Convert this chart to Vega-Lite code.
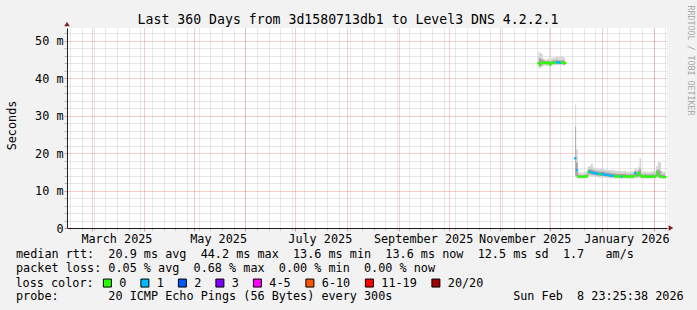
{
  "$schema": "https://vega.github.io/schema/vega-lite/v6.json",
  "width": 600,
  "height": 200,
  "autosize": "none",
  "padding": {"left": 67, "top": 28, "right": 30, "bottom": 82},
  "background": "#f2f2f2",
  "config": {
    "view": {"fill": "#ffffff", "stroke": null},
    "font": "DejaVu Sans Mono",
    "axis": {"labelFont": "DejaVu Sans Mono", "titleFont": "DejaVu Sans Mono", "labelColor": "#000000", "titleColor": "#000000", "titleFontWeight": "normal"}
  },
  "title": {
    "text": "Last 360 Days from 3d1580713db1 to Level3 DNS 4.2.2.1",
    "font": "DejaVu Sans Mono", "fontSize": 13.2, "fontWeight": "normal", "color": "#000000",
    "anchor": "middle", "frame": "group", "dx": -19, "baseline": "alphabetic", "offset": -32
  },
  "data": {"values": [
    {"t":"2025-11-24","seg":"A","med":44.0,"loss":"0","lo":42.6,"hi":47.0,"lo2":43.2,"hi2":45.5},
    {"t":"2025-11-25","seg":"A","med":43.6,"loss":"0","lo":42.7,"hi":46.8,"lo2":43.2,"hi2":45.2},
    {"t":"2025-11-26","seg":"A","med":44.1,"loss":"0","lo":42.9,"hi":46.5,"lo2":43.5,"hi2":45.0},
    {"t":"2025-11-27","seg":"A","med":44.1,"loss":"0","lo":43.3,"hi":45.3,"lo2":43.7,"hi2":44.7},
    {"t":"2025-11-28","seg":"A","med":44.2,"loss":"0","lo":43.4,"hi":45.0,"lo2":43.8,"hi2":44.6},
    {"t":"2025-11-29","seg":"A","med":44.0,"loss":"0","lo":43.3,"hi":45.0,"lo2":43.6,"hi2":44.5},
    {"t":"2025-11-30","seg":"A","med":44.1,"loss":"0","lo":43.4,"hi":45.2,"lo2":43.7,"hi2":44.6},
    {"t":"2025-12-01","seg":"A","med":43.6,"loss":"0","lo":43.0,"hi":45.0,"lo2":43.3,"hi2":44.4},
    {"t":"2025-12-02","seg":"A","med":44.1,"loss":"0","lo":43.4,"hi":45.3,"lo2":43.7,"hi2":44.6},
    {"t":"2025-12-03","seg":"A","med":44.2,"loss":"0","lo":43.5,"hi":45.6,"lo2":43.8,"hi2":44.8},
    {"t":"2025-12-04","seg":"A","med":44.1,"loss":"0","lo":43.4,"hi":45.5,"lo2":43.8,"hi2":44.7},
    {"t":"2025-12-05","seg":"A","med":44.2,"loss":"1","lo":43.5,"hi":45.8,"lo2":43.9,"hi2":44.9},
    {"t":"2025-12-06","seg":"A","med":44.2,"loss":"1","lo":43.5,"hi":45.7,"lo2":43.8,"hi2":44.8},
    {"t":"2025-12-07","seg":"A","med":44.1,"loss":"1","lo":43.4,"hi":45.6,"lo2":43.8,"hi2":44.7},
    {"t":"2025-12-08","seg":"A","med":44.2,"loss":"0","lo":43.5,"hi":45.9,"lo2":43.8,"hi2":44.8},
    {"t":"2025-12-09","seg":"A","med":44.1,"loss":"0","lo":43.4,"hi":45.6,"lo2":43.7,"hi2":44.7},
    {"t":"2025-12-10","seg":"A","med":44.0,"loss":"0","lo":43.3,"hi":45.3,"lo2":43.6,"hi2":44.5},
    {"t":"2025-12-16","seg":"B","med":18.6,"loss":"1","lo":13.5,"hi":33.0,"lo2":14.0,"hi2":27.0},
    {"t":"2025-12-17","seg":"B","med":15.5,"loss":"1","lo":13.3,"hi":21.0,"lo2":13.8,"hi2":17.5},
    {"t":"2025-12-18","seg":"B","med":13.7,"loss":"0","lo":13.2,"hi":15.0,"lo2":13.4,"hi2":14.2},
    {"t":"2025-12-19","seg":"B","med":13.7,"loss":"0","lo":13.2,"hi":14.8,"lo2":13.4,"hi2":14.1},
    {"t":"2025-12-20","seg":"B","med":13.7,"loss":"0","lo":13.2,"hi":14.7,"lo2":13.4,"hi2":14.1},
    {"t":"2025-12-21","seg":"B","med":13.7,"loss":"0","lo":13.2,"hi":14.8,"lo2":13.4,"hi2":14.1},
    {"t":"2025-12-22","seg":"B","med":13.8,"loss":"0","lo":13.3,"hi":14.9,"lo2":13.5,"hi2":14.2},
    {"t":"2025-12-23","seg":"B","med":13.8,"loss":"0","lo":13.3,"hi":15.0,"lo2":13.5,"hi2":14.3},
    {"t":"2025-12-24","seg":"B","med":15.0,"loss":"0","lo":13.8,"hi":16.4,"lo2":14.3,"hi2":15.6},
    {"t":"2025-12-25","seg":"B","med":15.0,"loss":"1","lo":13.9,"hi":16.6,"lo2":14.4,"hi2":15.7},
    {"t":"2025-12-26","seg":"B","med":14.8,"loss":"1","lo":13.8,"hi":17.3,"lo2":14.3,"hi2":15.6},
    {"t":"2025-12-27","seg":"B","med":14.7,"loss":"1","lo":13.7,"hi":16.2,"lo2":14.2,"hi2":15.4},
    {"t":"2025-12-28","seg":"B","med":14.6,"loss":"1","lo":13.6,"hi":16.0,"lo2":14.1,"hi2":15.3},
    {"t":"2025-12-29","seg":"B","med":14.5,"loss":"1","lo":13.6,"hi":15.9,"lo2":14.0,"hi2":15.2},
    {"t":"2025-12-30","seg":"B","med":14.4,"loss":"1","lo":13.5,"hi":15.8,"lo2":14.0,"hi2":15.1},
    {"t":"2025-12-31","seg":"B","med":14.3,"loss":"0","lo":13.5,"hi":15.8,"lo2":13.9,"hi2":15.0},
    {"t":"2026-01-01","seg":"B","med":14.5,"loss":"1","lo":13.5,"hi":16.0,"lo2":13.9,"hi2":15.1},
    {"t":"2026-01-02","seg":"B","med":14.3,"loss":"1","lo":13.5,"hi":15.7,"lo2":13.9,"hi2":15.0},
    {"t":"2026-01-03","seg":"B","med":14.2,"loss":"1","lo":13.4,"hi":15.6,"lo2":13.8,"hi2":14.9},
    {"t":"2026-01-04","seg":"B","med":14.1,"loss":"1","lo":13.4,"hi":15.6,"lo2":13.8,"hi2":14.8},
    {"t":"2026-01-05","seg":"B","med":14.1,"loss":"1","lo":13.4,"hi":15.5,"lo2":13.7,"hi2":14.8},
    {"t":"2026-01-06","seg":"B","med":14.0,"loss":"1","lo":13.3,"hi":15.5,"lo2":13.7,"hi2":14.7},
    {"t":"2026-01-07","seg":"B","med":13.9,"loss":"1","lo":13.3,"hi":15.4,"lo2":13.6,"hi2":14.6},
    {"t":"2026-01-08","seg":"B","med":13.9,"loss":"1","lo":13.3,"hi":15.4,"lo2":13.6,"hi2":14.6},
    {"t":"2026-01-09","seg":"B","med":13.8,"loss":"0","lo":13.2,"hi":15.3,"lo2":13.5,"hi2":14.5},
    {"t":"2026-01-10","seg":"B","med":13.8,"loss":"0","lo":13.2,"hi":15.2,"lo2":13.5,"hi2":14.4},
    {"t":"2026-01-11","seg":"B","med":13.8,"loss":"0","lo":13.2,"hi":15.3,"lo2":13.5,"hi2":14.5},
    {"t":"2026-01-12","seg":"B","med":13.7,"loss":"0","lo":13.2,"hi":15.2,"lo2":13.4,"hi2":14.4},
    {"t":"2026-01-13","seg":"B","med":13.7,"loss":"1","lo":13.2,"hi":15.1,"lo2":13.4,"hi2":14.4},
    {"t":"2026-01-14","seg":"B","med":13.8,"loss":"0","lo":13.2,"hi":15.2,"lo2":13.5,"hi2":14.5},
    {"t":"2026-01-15","seg":"B","med":13.8,"loss":"0","lo":13.2,"hi":15.3,"lo2":13.5,"hi2":14.5},
    {"t":"2026-01-16","seg":"B","med":13.7,"loss":"0","lo":13.2,"hi":15.0,"lo2":13.4,"hi2":14.3},
    {"t":"2026-01-17","seg":"B","med":13.7,"loss":"0","lo":13.2,"hi":15.0,"lo2":13.4,"hi2":14.3},
    {"t":"2026-01-18","seg":"B","med":13.8,"loss":"0","lo":13.2,"hi":15.2,"lo2":13.5,"hi2":14.4},
    {"t":"2026-01-19","seg":"B","med":13.7,"loss":"0","lo":13.2,"hi":15.1,"lo2":13.4,"hi2":14.3},
    {"t":"2026-01-20","seg":"B","med":13.8,"loss":"0","lo":13.2,"hi":15.2,"lo2":13.5,"hi2":14.4},
    {"t":"2026-01-21","seg":"B","med":14.6,"loss":"1","lo":13.4,"hi":16.0,"lo2":13.8,"hi2":15.2},
    {"t":"2026-01-22","seg":"B","med":14.0,"loss":"0","lo":13.3,"hi":15.6,"lo2":13.6,"hi2":14.8},
    {"t":"2026-01-23","seg":"B","med":14.7,"loss":"0","lo":13.4,"hi":16.2,"lo2":13.8,"hi2":15.3},
    {"t":"2026-01-24","seg":"B","med":14.2,"loss":"0","lo":13.3,"hi":18.6,"lo2":13.6,"hi2":15.8},
    {"t":"2026-01-25","seg":"B","med":13.7,"loss":"0","lo":13.2,"hi":15.0,"lo2":13.4,"hi2":14.3},
    {"t":"2026-01-26","seg":"B","med":13.7,"loss":"0","lo":13.2,"hi":15.0,"lo2":13.4,"hi2":14.3},
    {"t":"2026-01-27","seg":"B","med":13.8,"loss":"0","lo":13.2,"hi":15.1,"lo2":13.5,"hi2":14.4},
    {"t":"2026-01-28","seg":"B","med":13.7,"loss":"0","lo":13.2,"hi":15.0,"lo2":13.4,"hi2":14.3},
    {"t":"2026-01-29","seg":"B","med":13.7,"loss":"0","lo":13.2,"hi":14.9,"lo2":13.4,"hi2":14.3},
    {"t":"2026-01-30","seg":"B","med":13.7,"loss":"0","lo":13.2,"hi":15.0,"lo2":13.4,"hi2":14.3},
    {"t":"2026-01-31","seg":"B","med":13.7,"loss":"0","lo":13.2,"hi":15.1,"lo2":13.4,"hi2":14.3},
    {"t":"2026-02-01","seg":"B","med":13.8,"loss":"0","lo":13.2,"hi":15.2,"lo2":13.5,"hi2":14.4},
    {"t":"2026-02-02","seg":"B","med":13.7,"loss":"0","lo":13.2,"hi":15.0,"lo2":13.4,"hi2":14.3},
    {"t":"2026-02-03","seg":"B","med":14.8,"loss":"0","lo":13.4,"hi":16.5,"lo2":13.9,"hi2":15.4},
    {"t":"2026-02-04","seg":"B","med":14.2,"loss":"0","lo":13.3,"hi":17.7,"lo2":13.6,"hi2":15.6},
    {"t":"2026-02-05","seg":"B","med":13.8,"loss":"0","lo":13.2,"hi":17.5,"lo2":13.5,"hi2":15.2},
    {"t":"2026-02-06","seg":"B","med":13.6,"loss":"0","lo":13.2,"hi":15.2,"lo2":13.4,"hi2":14.2},
    {"t":"2026-02-07","seg":"B","med":13.6,"loss":"0","lo":13.1,"hi":15.0,"lo2":13.4,"hi2":14.2},
    {"t":"2026-02-08","seg":"B","med":13.6,"loss":"0","lo":13.1,"hi":15.0,"lo2":13.4,"hi2":14.2}
  ]},
  "resolve": {"axis": {"x": "independent", "y": "independent"}},
  "layer": [
    {
      "mark": {"type": "area", "interpolate": "step", "color": "#d6d6d6"},
      "encoding": {
        "x": {
          "field": "t", "type": "temporal",
          "scale": {"type": "utc", "domain": [{"year": 2025, "month": 2, "date": 14, "hours": 1, "utc": true}, {"year": 2026, "month": 2, "date": 9, "hours": 1, "utc": true}]},
          "axis": {
            "orient": "bottom", "tickCount": {"interval": "week", "step": 1},
            "grid": true, "gridColor": "#8f8f8f", "gridOpacity": 0.4, "gridDash": [1, 1],
            "labels": false, "domain": false, "ticks": true, "tickSize": 2, "tickColor": "#8f8f8f", "tickOpacity": 0.5,
            "title": "probe:\u00a0\u00a0\u00a0\u00a0\u00a0\u00a0\u00a020\u00a0ICMP\u00a0Echo\u00a0Pings\u00a0(56\u00a0Bytes)\u00a0every\u00a0300s\u00a0\u00a0\u00a0\u00a0\u00a0\u00a0\u00a0\u00a0\u00a0\u00a0\u00a0\u00a0\u00a0\u00a0\u00a0\u00a0\u00a0Sun\u00a0Feb\u00a0\u00a08\u00a023:25:38\u00a02026",
            "titleX": -51.5, "titleY": 71.3, "titleAnchor": "start", "titleAlign": "left", "titleBaseline": "alphabetic",
            "titleFontSize": 11.8
          }
        },
        "y": {
          "field": "lo", "type": "quantitative",
          "scale": {"domain": [0, 53.38], "nice": false, "zero": false},
          "axis": {
            "orient": "left",
            "values": [0, 2, 4, 6, 8, 10, 12, 14, 16, 18, 20, 22, 24, 26, 28, 30, 32, 34, 36, 38, 40, 42, 44, 46, 48, 50, 52],
            "grid": true,
            "gridColor": {"condition": {"test": "datum.value % 10 === 0", "value": "#de4f4f"}, "value": "#8f8f8f"},
            "gridOpacity": {"condition": {"test": "datum.value % 10 === 0", "value": 0.55}, "value": 0.4},
            "gridDash": [1, 1],
            "domain": true, "domainColor": "#1f1f1f",
            "ticks": true, "tickSize": 3,
            "tickColor": {"condition": {"test": "datum.value % 10 === 0", "value": "#de4f4f"}, "value": "#8f8f8f"},
            "tickOpacity": 0.6,
            "labelExpr": "datum.value % 10 === 0 ? (datum.value === 0 ? '0\u00a0\u00a0' : datum.value + '\u00a0m') : ''",
            "labelFontSize": 11.8, "labelPadding": 1, "labelOverlap": false, "labelFlush": false, "labelBound": false,
            "title": "Seconds", "titleFontSize": 11.8, "titleX": -56, "titleY": 97, "titleAngle": -90,
            "titleAlign": "center", "titleBaseline": "middle"
          }
        },
        "y2": {"field": "hi"},
        "detail": {"field": "seg"}
      }
    },
    {
      "mark": {"type": "area", "interpolate": "step", "color": "#a4a4a4"},
      "encoding": {
        "x": {
          "field": "t", "type": "temporal",
          "axis": {
            "orient": "bottom", "tickCount": {"interval": "month", "step": 1},
            "grid": true, "gridColor": "#de4f4f", "gridOpacity": 0.55, "gridDash": [1, 1],
            "domain": true, "domainColor": "#1f1f1f",
            "ticks": true, "tickSize": 3, "tickColor": "#de4f4f", "tickOpacity": 0.6,
            "labelExpr": "utcmonth(datum.value) % 2 === 0 ? utcFormat(datum.value, '%B %Y') : ''",
            "labelOffset": 24.5, "labelPadding": 11, "labelBaseline": "alphabetic", "labelFontSize": 11.8,
            "labelOverlap": false, "labelFlush": false, "labelBound": false,
            "title": [
              "median\u00a0rtt:\u00a0\u00a020.9\u00a0ms\u00a0avg\u00a0\u00a044.2\u00a0ms\u00a0max\u00a0\u00a013.6\u00a0ms\u00a0min\u00a0\u00a013.6\u00a0ms\u00a0now\u00a0\u00a012.5\u00a0ms\u00a0sd\u00a0\u00a01.7\u00a0\u00a0\u00a0am/s",
              "packet\u00a0loss:\u00a00.05\u00a0%\u00a0avg\u00a0\u00a00.68\u00a0%\u00a0max\u00a0\u00a00.00\u00a0%\u00a0min\u00a0\u00a00.00\u00a0%\u00a0now"
            ],
            "titleX": -51.5, "titleY": 29.7, "titleAnchor": "start", "titleAlign": "left", "titleBaseline": "alphabetic",
            "titleFontSize": 11.8, "titleLineHeight": 14
          }
        },
        "y": {
          "field": "lo2", "type": "quantitative",
          "axis": {
            "orient": "right", "grid": false, "labels": false, "ticks": false, "domain": false,
            "title": "RRDTOOL / TOBI OETIKER", "titleAngle": 90, "titleX": 22, "titleY": -23,
            "titleAlign": "left", "titleBaseline": "middle", "titleFontSize": 8.3, "titleColor": "#a8a8a8"
          }
        },
        "y2": {"field": "hi2"},
        "detail": {"field": "seg"}
      }
    },
    {
      "mark": {"type": "tick", "orient": "horizontal", "thickness": 2, "size": 2.6, "opacity": 1},
      "encoding": {
        "x": {"field": "t", "type": "temporal", "axis": null},
        "y": {"field": "med", "type": "quantitative", "axis": null},
        "color": {
          "field": "loss", "type": "nominal",
          "scale": {
            "domain": ["0", "1", "2", "3", "4-5", "6-10", "11-19", "20/20"],
            "range": ["#26ff00", "#00b8ff", "#0059ff", "#7e00ff", "#ff00ff", "#ff5500", "#ff0000", "#a00000"]
          },
          "legend": {
            "orient": "none", "legendX": -51.5, "legendY": 249, "direction": "horizontal",
            "title": "loss color:", "titleOrient": "left", "titleFont": "DejaVu Sans Mono", "titleFontSize": 11.8,
            "titleFontWeight": "normal", "titleColor": "#000000", "titlePadding": 7,
            "labelFont": "DejaVu Sans Mono", "labelFontSize": 11.8, "labelColor": "#000000",
            "labelOffset": 6, "columnPadding": 11.5,
            "symbolType": "square", "symbolSize": 64, "symbolStrokeColor": "#000000", "symbolStrokeWidth": 1, "symbolOpacity": 1
          }
        }
      }
    },
    {
      "data": {"values": [{}]},
      "mark": {"type": "point", "shape": "triangle-right", "filled": true, "size": 30, "color": "#801f1f", "opacity": 1, "xOffset": 4, "clip": false},
      "encoding": {
        "x": {"datum": {"year": 2026, "month": 2, "date": 9, "hours": 1, "utc": true}, "type": "temporal", "axis": null},
        "y": {"datum": 0, "type": "quantitative", "axis": null}
      }
    },
    {
      "data": {"values": [{}]},
      "mark": {"type": "point", "shape": "triangle-up", "filled": true, "size": 30, "color": "#801f1f", "opacity": 1, "yOffset": -4, "clip": false},
      "encoding": {
        "x": {"datum": {"year": 2025, "month": 2, "date": 14, "hours": 1, "utc": true}, "type": "temporal", "axis": null},
        "y": {"datum": 53.38, "type": "quantitative", "axis": null}
      }
    }
  ]
}
